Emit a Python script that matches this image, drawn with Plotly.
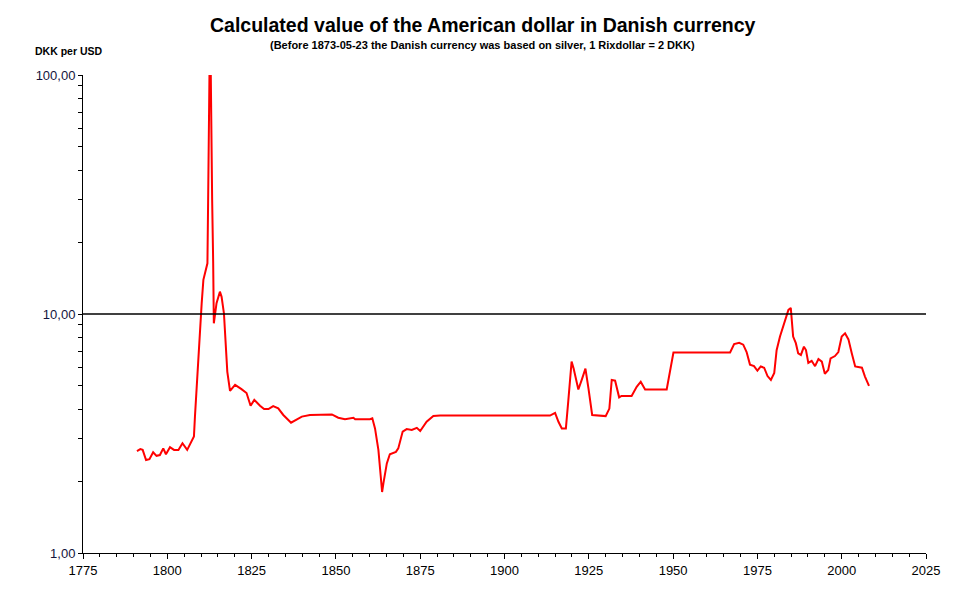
import plotly.graph_objects as go

# Kurs DKK/USD (rok, DKK za 1 USD)
lata = [
    1791.0, 1792.0, 1792.7, 1793.7, 1794.7, 1795.8, 1796.8, 1797.8, 1798.8, 1799.6,
    1800.8, 1802.0, 1803.3, 1804.5, 1805.9, 1807.5, 1807.9, 1808.2, 1808.7, 1809.2,
    1809.7, 1810.2, 1810.7, 1811.3, 1811.9, 1812.1, 1812.3, 1812.5, 1812.9, 1813.0,
    1813.3, 1813.6, 1813.8, 1814.2, 1814.6, 1815.6, 1816.1, 1816.8, 1817.4, 1817.8,
    1818.6, 1820.1, 1822.0, 1823.5, 1824.7, 1825.8, 1827.5, 1828.7, 1830.0, 1831.4,
    1832.9, 1834.4, 1836.7, 1838.1, 1839.9, 1842.3, 1848.8, 1850.7, 1852.7, 1855.2,
    1855.7, 1860.1, 1860.8, 1861.6, 1862.6, 1863.3, 1863.7, 1864.1, 1865.1, 1866.0,
    1867.8, 1868.5, 1869.8, 1871.0, 1872.5, 1874.0, 1875.0, 1876.9, 1878.9, 1880.9,
    1913.5, 1915.0, 1916.0, 1917.0, 1918.2, 1918.9, 1919.9, 1920.5, 1921.9, 1922.9,
    1924.0, 1924.9, 1926.0, 1930.0, 1931.1, 1931.8, 1932.8, 1934.0, 1934.7, 1937.7,
    1939.2, 1940.4, 1941.7, 1948.1, 1949.1, 1950.1, 1966.9, 1968.1, 1969.6, 1970.8,
    1971.8, 1972.8, 1974.0, 1975.0, 1976.0, 1977.0, 1978.0, 1979.0, 1980.0, 1980.7,
    1981.7, 1983.2, 1984.2, 1984.9, 1985.6, 1986.4, 1987.1, 1987.9, 1988.8, 1989.4,
    1990.1, 1991.1, 1992.1, 1993.1, 1994.1, 1995.0, 1996.0, 1996.7, 1998.0, 1999.0,
    2000.0, 2001.0, 2002.0, 2003.0, 2004.0, 2006.0, 2006.9, 2008.1,
]
kurs = [
    2.67, 2.72, 2.70, 2.45, 2.47, 2.64, 2.55, 2.57, 2.74, 2.59,
    2.77, 2.70, 2.70, 2.88, 2.70, 2.99, 3.07, 3.72, 4.96, 6.84,
    8.43, 11.1, 13.9, 15.3, 16.3, 29.1, 53.5, 99.0, 99.0, 54.5,
    30.0, 16.6, 9.14, 10.05, 11.1, 12.4, 11.8, 10.05, 6.84, 5.73,
    4.77, 5.05, 4.85, 4.67, 4.13, 4.37, 4.13, 4.00, 4.00, 4.12,
    4.03, 3.78, 3.51, 3.60, 3.72, 3.78, 3.80, 3.68, 3.63, 3.68,
    3.63, 3.63, 3.66, 3.32, 2.70, 2.09, 1.80, 1.96, 2.37, 2.59,
    2.65, 2.74, 3.22, 3.30, 3.27, 3.34, 3.24, 3.54, 3.74, 3.76,
    3.76, 3.86, 3.54, 3.32, 3.32, 4.30, 6.32, 5.91, 4.83, 5.30,
    5.91, 4.88, 3.78, 3.74, 4.02, 5.30, 5.26, 4.48, 4.54, 4.54,
    4.96, 5.21, 4.83, 4.83, 5.83, 6.90, 6.90, 7.48, 7.58, 7.44,
    6.93, 6.14, 6.05, 5.79, 6.03, 5.96, 5.50, 5.30, 5.67, 7.06,
    8.05, 9.28, 10.4, 10.6, 8.05, 7.55, 6.84, 6.74, 7.30, 7.07,
    6.24, 6.37, 6.05, 6.48, 6.32, 5.62, 5.83, 6.52, 6.67, 6.93,
    8.05, 8.30, 7.83, 6.84, 6.03, 5.96, 5.47, 5.00,
]

x_ticki = list(range(1775, 2026, 25))
y_ticki = [1, 2, 3, 4, 5, 6, 7, 8, 9, 10, 20, 30, 40, 50, 60, 70, 80, 90, 100]
y_etykiety = ["1,00" if v == 1 else "10,00" if v == 10 else "100,00" if v == 100 else "" for v in y_ticki]

fig = go.Figure()
fig.add_trace(go.Scatter(
    x=lata, y=kurs, mode="lines",
    line=dict(color="#ff0000", width=2),
    hoverinfo="x+y", showlegend=False,
))

# linia odniesienia przy 10 DKK
fig.add_shape(type="line", xref="paper", x0=0, x1=1, yref="y", y0=10, y1=10,
              line=dict(color="black", width=1.5))

fig.add_annotation(text="<b>Calculated value of the American dollar in Danish currency</b>",
                   xref="paper", yref="paper", x=0.474, y=1.0, yshift=63, yanchor="top",
                   showarrow=False, font=dict(family="Liberation Sans, Arial", size=19.5, color="black"))
fig.add_annotation(text="<b>(Before 1873-05-23 the Danish currency was based on silver, 1 Rixdollar = 2 DKK)</b>",
                   xref="paper", yref="paper", x=0.474, y=1.0, yshift=38, yanchor="top",
                   showarrow=False, font=dict(family="Liberation Sans, Arial", size=11, color="black"))
fig.add_annotation(text="<b>DKK per USD</b>", xref="paper", yref="paper",
                   x=0, xshift=-50, y=1.0, yshift=32, xanchor="left", yanchor="top",
                   showarrow=False, font=dict(family="Liberation Sans, Arial", size=10.5, color="black"))

# strona ma 8 px marginesu body, stad mniejsza figura
fig.update_layout(
    width=957, height=585,
    margin=dict(l=75, r=39, t=67, b=40),
    plot_bgcolor="white", paper_bgcolor="white",
    font=dict(family="Liberation Sans, Arial", color="black"),
    xaxis=dict(
        range=[1775, 2025], tickvals=x_ticki, showgrid=False, zeroline=False,
        showline=True, linecolor="black", linewidth=1, automargin=False,
        ticks="outside", ticklen=5, tickcolor="black",
        minor=dict(dtick=5, ticks="outside", ticklen=3, tickcolor="black"),
        tickfont=dict(family="Liberation Sans Narrow, Liberation Sans, Arial", size=13, color="black"),
    ),
    yaxis=dict(
        type="log", range=[0, 2], tickvals=y_ticki, ticktext=y_etykiety,
        showgrid=False, zeroline=False, showline=True, linecolor="black", linewidth=1,
        automargin=False, ticks="outside", ticklen=4, tickcolor="black",
        tickfont=dict(family="Liberation Sans, Arial", size=13, color="#14143c"),
    ),
)

fig.write_html("out.html")
